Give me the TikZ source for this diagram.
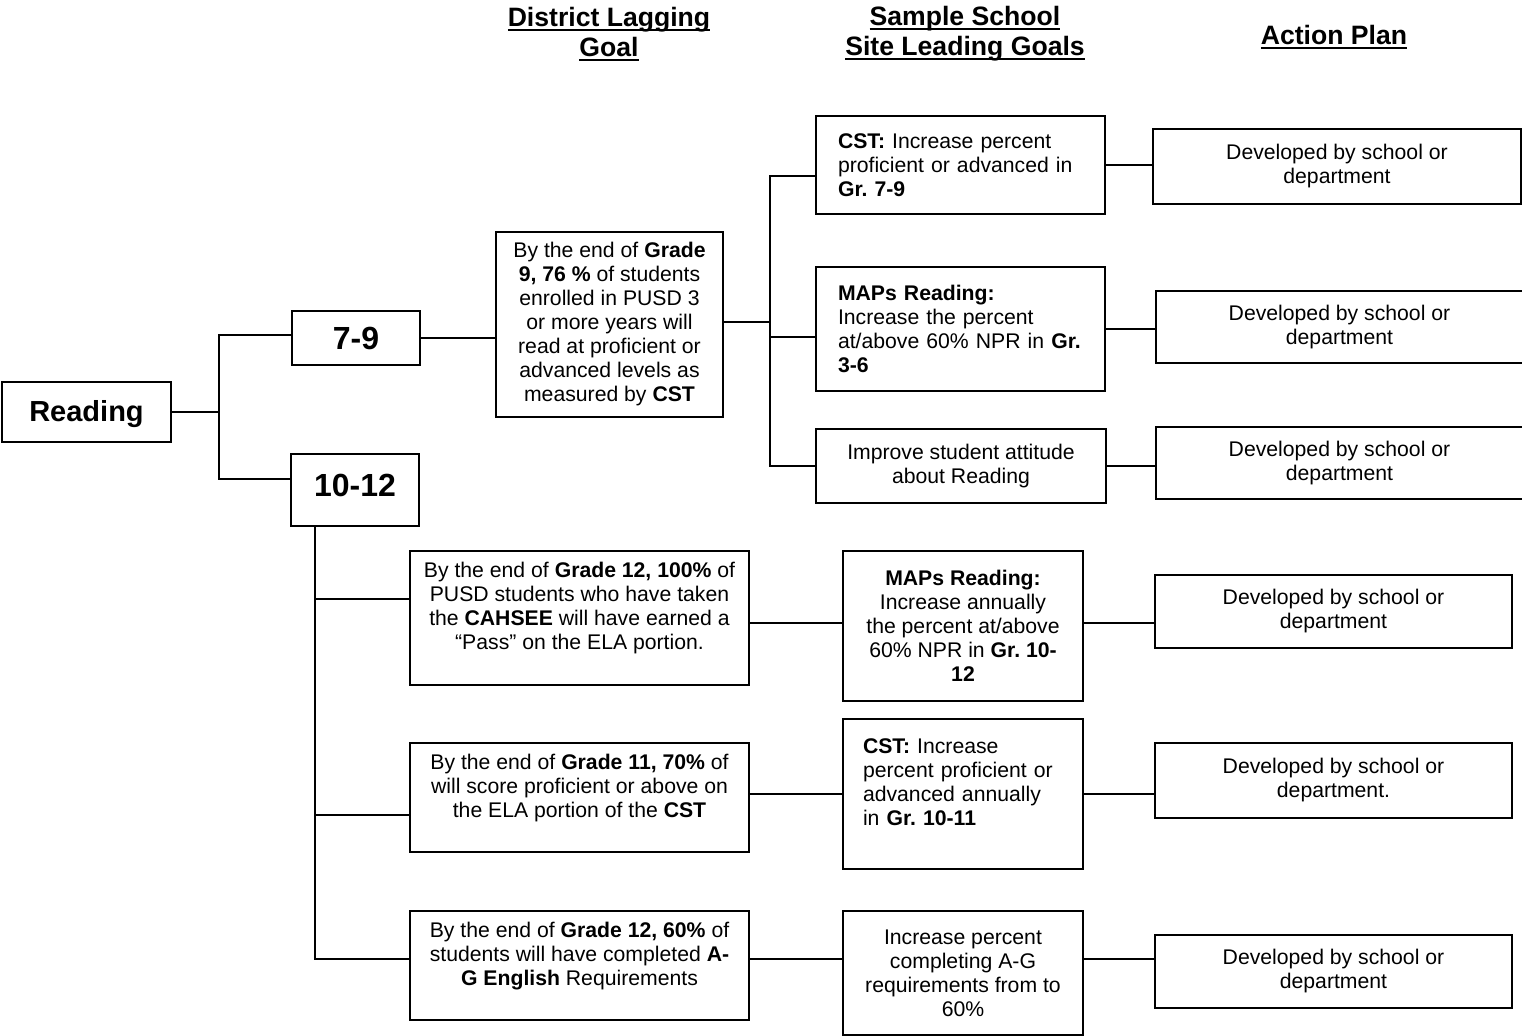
\documentclass[tikz,border=0pt]{standalone}
\usepackage{fontspec}
\setmainfont{Liberation Sans}
\frenchspacing
\newcommand{\headul}[1]{\sbox0{#1}\rlap{\rule[-2.2pt]{\wd0}{1pt}}\usebox0}

\begin{document}
\begin{tikzpicture}[x=0.5pt, y=-0.5pt,
    goalbox/.style={draw, line width=1pt, inner sep=0pt, align=center,
        font=\fontsize{10.6}{12}\selectfont},
    leftbox/.style={goalbox, align=left},
    gradebox/.style={draw, line width=1pt, inner sep=0pt,
        font=\fontsize{16}{18}\selectfont\bfseries},
    heading/.style={align=center, font=\fontsize{13.3}{15}\selectfont\bfseries},
    link/.style={line width=1pt}]
    \useasboundingbox (0,0) rectangle (1522,1036);
    \clip (0,0) rectangle (1522,1036);

    % Titoli delle colonne
    \node[heading] (laghead) at (609,34) {\headul{District Lagging}\\\headul{Goal}};
    \node[heading] (sitehead) at (965,34) {\headul{Sample School}\\\headul{Site Leading Goals}};
    \node[heading] (acthead) at (1334,37) {\headul{Action Plan}};

    % Radice e livelli
    \node[gradebox, font=\fontsize{14.5}{16}\selectfont\bfseries,
        minimum width=84.5pt, minimum height=30pt, text height=12pt] (reading) at (86.5,412.5) {Reading};
    \node[gradebox, minimum width=64pt, minimum height=27pt] (g79) at (356,338) {7-9};
    \node[gradebox, minimum width=64pt, minimum height=36pt, text depth=5pt]
        (g1012) at (355,490.5) {10-12};

    % Gradi 7-9
    \node[goalbox, minimum width=113.5pt, minimum height=92.5pt] (lag79) at (609.5,324.5)
        {By the end of \textbf{Grade}\\ \textbf{9, 76 \%} of students\\ enrolled in PUSD 3\\
         or more years will\\ read at proficient or\\ advanced levels as\\ measured by \textbf{CST}};
    \node[leftbox, minimum width=144.5pt, minimum height=49pt, text width=122.5pt]
        (site79a) at (960.5,165)
        {\textbf{CST:} Increase percent\\ proficient or advanced in\\ \textbf{Gr. 7-9}};
    \node[leftbox, minimum width=144.5pt, minimum height=62pt, text width=122.5pt]
        (site79b) at (960.5,329)
        {\textbf{MAPs Reading:}\\ Increase the percent\\ at/above 60\% NPR in \textbf{Gr.}\\ \textbf{3-6}};
    \node[goalbox, minimum width=145pt, minimum height=37pt] (site79c) at (961,466)
        {Improve student attitude\\ about Reading};
    \node[goalbox, minimum width=184pt, minimum height=37.5pt] (act1) at (1337,166.5)
        {Developed by school or\\ department};
    \node[goalbox, minimum width=183.5pt, minimum height=36pt] (act2) at (1339.5,327)
        {Developed by school or\\ department};
    \node[goalbox, minimum width=183.5pt, minimum height=36pt] (act3) at (1339.5,463)
        {Developed by school or\\ department};

    % Gradi 10-12
    \node[goalbox, minimum width=169.5pt, minimum height=67pt] (lag1) at (579.5,618)
        {By the end of \textbf{Grade 12, 100\%} of\\ PUSD students who have taken\\
         the \textbf{CAHSEE} will have earned a\\ ``Pass'' on the ELA portion.\\ ~};
    \node[goalbox, minimum width=169.5pt, minimum height=54.5pt] (lag2) at (579.5,797.5)
        {By the end of \textbf{Grade 11, 70\%} of\\ will score proficient or above on\\
         the ELA portion of the \textbf{CST}\\ ~};
    \node[goalbox, minimum width=169.5pt, minimum height=54.5pt] (lag3) at (579.5,965.5)
        {By the end of \textbf{Grade 12, 60\%} of\\ students will have completed \textbf{A-}\\
         \textbf{G English} Requirements\\ ~};
    \node[goalbox, minimum width=120pt, minimum height=75pt] (site1) at (963,626)
        {\textbf{MAPs Reading:}\\ Increase annually\\ the percent at/above\\
         60\% NPR in \textbf{Gr. 10-}\\ \textbf{12}};
    \node[leftbox, minimum width=120pt, minimum height=75pt, text width=100pt]
        (site2) at (963,794)
        {\textbf{CST:} Increase\\ percent proficient or\\ advanced annually\\ in \textbf{Gr. 10-11}\\ ~};
    \node[goalbox, minimum width=120pt, minimum height=62pt] (site3) at (963,973)
        {Increase percent\\ completing A-G\\ requirements from to\\ 60\%};
    \node[goalbox, minimum width=178.5pt, minimum height=36.5pt] (act4) at (1333.5,611.5)
        {Developed by school or\\ department};
    \node[goalbox, minimum width=178.5pt, minimum height=37.5pt] (act5) at (1333.5,780.5)
        {Developed by school or\\ department.};
    \node[goalbox, minimum width=178.5pt, minimum height=36.5pt] (act6) at (1333.5,971.5)
        {Developed by school or\\ department};

    % Collegamenti
    \coordinate (j1) at (219,412.5);
    \coordinate (j2) at (770,322);
    \coordinate (j3) at ([xshift=-20pt]g1012.south);
    \coordinate (j4) at ([yshift=7pt]site3.west);
    \draw[link] (reading.east) -- (j1);
    \draw[link] ([yshift=1.5pt]g79.west) -| (j1) |- ([yshift=5.5pt]g1012.west);
    \draw[link] (g79.east) -- (g79.east -| lag79.west);
    \draw[link] (lag79.east |- j2) -- (j2);
    \draw[link] ([yshift=-5.5pt]site79a.west) -| (j2) |- (site79c.west);
    \draw[link] ([yshift=-4pt]site79b.west) -- ([yshift=-4pt]site79b.west -| j2);
    \draw[link] (site79a.east) -- (site79a.east -| act1.west);
    \draw[link] (site79b.east) -- (site79b.east -| act2.west);
    \draw[link] (site79c.east) -- (site79c.east -| act3.west);

    \draw[link] (j3) |- ([yshift=3.25pt]lag3.west);
    \draw[link] ([yshift=9.5pt]lag1.west) -- ([yshift=9.5pt]lag1.west -| j3);
    \draw[link] ([yshift=-8.75pt]lag2.west) -- ([yshift=-8.75pt]lag2.west -| j3);
    \draw[link] ([yshift=1.5pt]lag1.east |- site1.west) -- ([yshift=1.5pt]site1.west);
    \draw[link] (lag2.east |- site2.west) -- (site2.west);
    \draw[link] (lag3.east |- j4) -- (j4);
    \draw[link] ([yshift=1.5pt]site1.east) -- ([yshift=1.5pt]site1.east -| act4.west);
    \draw[link] (site2.east) -- (site2.east -| act5.west);
    \draw[link] ([yshift=7pt]site3.east) -- ([yshift=7pt]site3.east -| act6.west);
\end{tikzpicture}
\end{document}
